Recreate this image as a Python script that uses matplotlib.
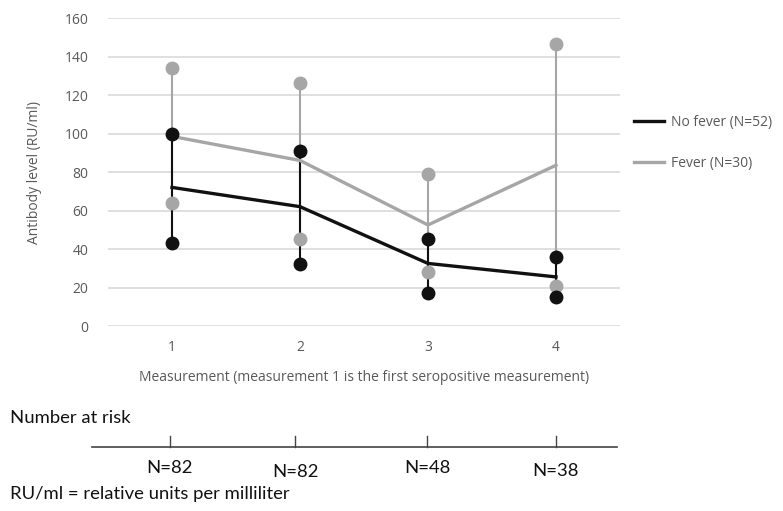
import numpy as np
import matplotlib
matplotlib.use('Agg')
from matplotlib import pyplot as plt
from matplotlib.lines import Line2D

measurements = [1, 2, 3, 4]
nofever_mean = [72, 62, 32.5, 25.5]
nofever_low = [43, 32, 17, 15]
nofever_high = [100, 91, 45, 36]
fever_mean = [98.5, 86, 52.5, 83.5]
fever_low = [64, 45, 28, 21]
fever_high = [134, 126, 79, 146.5]
at_risk = ['N=82', 'N=82', 'N=48', 'N=38']
yticks = [0, 20, 40, 60, 80, 100, 120, 140, 160]

BLACK = '#111111'
GREY = '#a6a6a6'
TXT = '#595959'
W, H = 783, 511

plt.rcParams['font.family'] = ['Open Sans', 'DejaVu Sans']

fig = plt.figure(figsize=(W / 100, H / 100), dpi=100)
ax = fig.add_axes([108 / W, 1 - 326 / H, 512 / W, 308 / H])

x = np.array(measurements)

# vertical range lines
ax.vlines(x, fever_low, fever_high, color=GREY, lw=1.5, zorder=2)
ax.vlines(x, nofever_low, nofever_high, color=BLACK, lw=1.5, zorder=3)

# mean lines
ax.plot(x, fever_mean, color=GREY, lw=2.4, zorder=3.5, label='Fever (N=30)')
ax.plot(x, nofever_mean, color=BLACK, lw=2.4, zorder=4, label='No fever (N=52)')

# end points
ax.plot(np.r_[x, x], fever_low + fever_high, 'o', color=GREY, ms=9, zorder=4.5)
ax.plot(np.r_[x, x], nofever_low + nofever_high, 'o', color=BLACK, ms=9, zorder=5)

ax.set_xlim(0.5, 4.5)
ax.set_ylim(0, 160)
ax.set_yticks(yticks)
ax.set_xticks(measurements)
ax.grid(axis='y', color='#d9d9d9', lw=1.2)
ax.set_axisbelow(True)
for s in ax.spines.values():
    s.set_visible(False)
ax.tick_params(length=0, labelsize=10, colors=TXT, pad=14)
ax.tick_params(axis='x', pad=10)
ax.set_ylabel('Antibody level (RU/ml)', fontsize=10, color=TXT, labelpad=16)
ax.set_xlabel('Measurement (measurement 1 is the first seropositive measurement)',
              fontsize=10, color=TXT, labelpad=11)

h, l = ax.get_legend_handles_labels()
leg = ax.legend(h[::-1], l[::-1], loc='center left', bbox_to_anchor=(1.0, 0.595),
                frameon=False, fontsize=10, handlelength=2.2, labelspacing=1.9,
                borderaxespad=0.6, handletextpad=0.5)
for t in leg.get_texts():
    t.set_color(TXT)

# number at risk table
bfont = ['Lato', 'DejaVu Sans']
tick_px = [170, 295, 427, 556]
lab_px = [468, 472, 468, 471]
fig.text(10 / W, 1 - 418 / H, 'Number at risk', fontsize=13.3, va='center',
         family=bfont, color=BLACK)
line_y = 1 - 447 / H
fig.add_artist(Line2D([92 / W, 617 / W], [line_y, line_y], color='#444444', lw=1.2))
for xp, lab, yp in zip(tick_px, at_risk, lab_px):
    fig.add_artist(Line2D([xp / W, xp / W], [line_y, line_y + 11 / H],
                          color='#444444', lw=1))
    fig.text(xp / W, 1 - yp / H, lab, fontsize=13.3, ha='center', va='center',
             family=bfont, color=BLACK)

fig.text(10 / W, 1 - 494 / H, 'RU/ml = relative units per milliliter',
         fontsize=13.3, va='center', family=bfont, color=BLACK)

fig.savefig('out.png', dpi=100)
